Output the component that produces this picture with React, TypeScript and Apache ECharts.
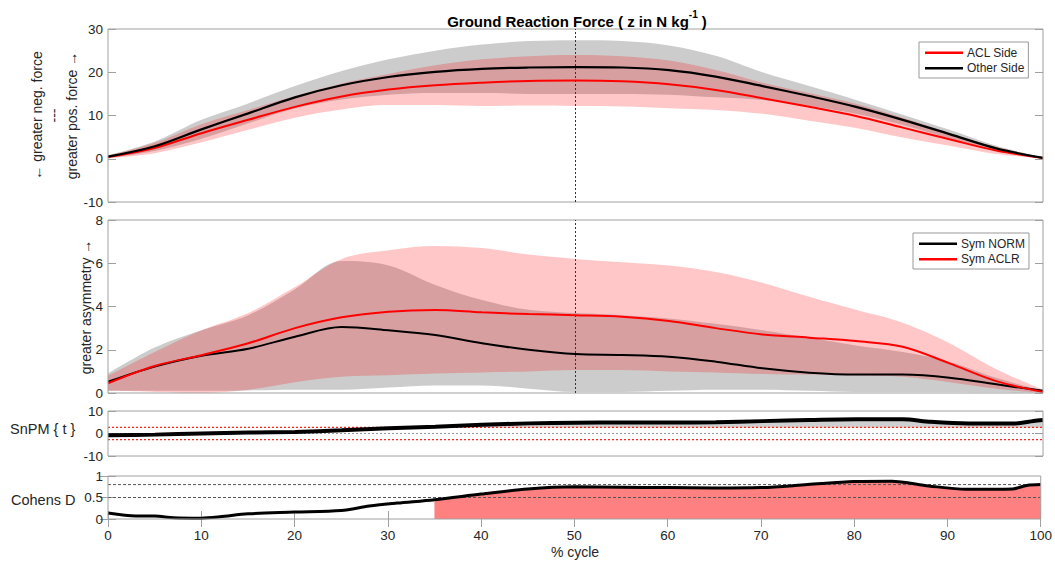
import React, { useEffect, useRef } from 'react';
import * as echarts from 'echarts';

// ---------- data ----------
const CYCLE = [0, 5, 10, 15, 20, 25, 30, 35, 40, 45, 50, 55, 60, 65, 70, 75, 80, 85, 90, 95, 100];

// Panel 1: Ground reaction force (z), mean and SD
const GRF_OTHER_MEAN = [0.5, 2.9, 6.8, 10.5, 14.2, 17.0, 18.9, 20.1, 20.8, 21.1, 21.2, 21.1, 20.5, 19.0, 16.8, 14.5, 12.0, 9.0, 5.7, 2.4, 0.2];
const GRF_OTHER_SD = [0.3, 1.1, 2.2, 2.3, 2.6, 3.3, 4.1, 4.9, 5.6, 6.1, 6.2, 6.1, 5.7, 4.8, 3.2, 2.3, 1.6, 1.2, 1.0, 0.6, 0.1];
const GRF_ACL_MEAN = [0.4, 2.5, 5.9, 9.0, 12.0, 14.4, 16.0, 17.0, 17.6, 18.0, 18.1, 17.9, 17.2, 15.9, 14.0, 12.0, 9.9, 7.2, 4.5, 1.9, 0.2];
const GRF_ACL_SD = [0.3, 1.2, 2.1, 2.3, 2.5, 3.0, 3.6, 4.6, 5.4, 5.7, 5.9, 5.8, 5.5, 4.6, 3.6, 3.2, 2.8, 2.3, 1.5, 0.8, 0.1];

// Panel 2: symmetry index, mean with lower / upper band
const SYM_NORM_MEAN = [0.52, 1.22, 1.72, 2.05, 2.6, 3.05, 2.9, 2.68, 2.3, 2.0, 1.8, 1.76, 1.68, 1.45, 1.14, 0.94, 0.85, 0.85, 0.71, 0.4, 0.1];
const SYM_NORM_LO = [0.1, 0.1, 0.1, 0.12, 0.15, 0.15, 0.25, 0.35, 0.35, 0.2, 0.05, 0.05, 0.1, 0.15, 0.15, 0.1, 0.05, 0.05, 0.05, 0.03, 0.0];
const SYM_NORM_HI = [0.9, 2.1, 2.9, 3.6, 4.8, 6.1, 5.9, 5.0, 4.3, 3.85, 3.7, 3.6, 3.45, 3.2, 2.9, 2.55, 2.2, 1.9, 1.45, 0.7, 0.1];
const SYM_ACLR_MEAN = [0.45, 1.25, 1.75, 2.3, 3.0, 3.5, 3.76, 3.84, 3.73, 3.65, 3.6, 3.53, 3.33, 3.0, 2.71, 2.56, 2.4, 2.14, 1.37, 0.55, 0.05];
const SYM_ACLR_LO = [0.1, 0.05, 0.0, 0.15, 0.5, 0.75, 0.82, 0.9, 0.95, 1.0, 1.06, 1.06, 1.0, 0.95, 0.88, 0.85, 0.82, 0.75, 0.5, 0.2, 0.0];
const SYM_ACLR_HI = [0.8, 1.9, 2.9, 3.7, 4.9, 6.2, 6.6, 6.8, 6.7, 6.4, 6.2, 6.05, 5.9, 5.6, 5.1, 4.45, 3.85, 3.25, 2.3, 1.1, 0.15];

// Panel 3: SnPM {t}
const SNPM_X = [0, 5, 10, 15, 20, 25, 30, 35, 40, 45, 50, 55, 60, 65, 70, 75, 80, 85, 88, 92, 97, 99, 100];
const SNPM_T = [-0.8, -0.5, 0.0, 0.4, 0.7, 1.4, 2.3, 3.0, 3.9, 4.5, 4.8, 4.9, 4.9, 5.0, 5.5, 6.0, 6.3, 6.3, 5.2, 4.5, 4.5, 5.6, 6.0];
const SNPM_THRESH = 2.7;

// Panel 4: Cohen's D
const COHEN_X = [0, 3, 5, 7, 10, 12, 15, 20, 25, 28, 31, 35, 40, 45, 50, 55, 60, 65, 70, 75, 80, 84, 88, 92, 97, 98.5, 100];
const COHEN_D = [0.14, 0.07, 0.07, 0.03, 0.02, 0.05, 0.12, 0.16, 0.2, 0.3, 0.37, 0.45, 0.58, 0.7, 0.75, 0.74, 0.73, 0.72, 0.73, 0.8, 0.87, 0.88, 0.77, 0.69, 0.7, 0.78, 0.8];
const COHEN_SIG_START = 35;
const COHEN_REF = [0.8, 0.5];
const EVENT_X = 50;

// ---------- styling ----------
const FONT = '"Liberation Sans", Arial, Helvetica, sans-serif';
const FRAME = '#a0a0a0';
const TEXT = '#262626';
const GRAY_BAND = 'rgba(0,0,0,0.2)';
const PINK_BAND = 'rgba(255,0,0,0.22)';
const L = 108;
const W = 935;
const SMOOTH = 0.35;

function band(stack: string, xi: number, yi: number, lo: number[], hi: number[], color: string) {
  const common = {
    type: 'line', xAxisIndex: xi, yAxisIndex: yi, stack, silent: true, symbol: 'none',
    smooth: SMOOTH, lineStyle: { width: 0, opacity: 0 }, z: 1,
  };
  return [
    { ...common, data: lo },
    { ...common, data: hi.map((h, i) => h - lo[i]), areaStyle: { color, opacity: 1 } },
  ];
}

function meanLine(name: string, xi: number, yi: number, data: number[], color: string, width: number, extra: any = {}) {
  return {
    type: 'line', name, xAxisIndex: xi, yAxisIndex: yi, symbol: 'none', smooth: SMOOTH,
    data, color, itemStyle: { color }, lineStyle: { color, width }, z: 3, ...extra,
  };
}

function hLine(xi: number, yi: number, y: number, color: string, dash: number[], width = 1) {
  return {
    type: 'line', xAxisIndex: xi, yAxisIndex: yi, symbol: 'none', silent: true, z: 2,
    data: [[0, y], [100, y]], color, itemStyle: { color },
    lineStyle: { color, width, type: dash, opacity: 1 },
  };
}

function yPair(gi: number, min: number, max: number, interval: number) {
  const tick = { show: true, inside: true, length: 8, lineStyle: { color: FRAME, width: 1 } };
  return [
    {
      gridIndex: gi, type: 'value', position: 'left', min, max, interval,
      axisLine: { show: false }, axisTick: tick, splitLine: { show: false },
      axisLabel: { show: true, color: TEXT, fontSize: 13.5, fontFamily: FONT, margin: 5 },
    },
    {
      gridIndex: gi, type: 'value', position: 'right', min, max, interval,
      axisLine: { show: false }, axisTick: tick, splitLine: { show: false },
      axisLabel: { show: false },
    },
  ];
}

function hiddenX(gi: number, isCat: boolean) {
  const base: any = {
    gridIndex: gi, axisLine: { show: false }, axisTick: { show: false },
    axisLabel: { show: false }, splitLine: { show: false },
  };
  if (isCat) return { ...base, type: 'category', data: CYCLE.map(String), boundaryGap: false };
  return { ...base, type: 'value', min: 0, max: 100, interval: 10 };
}

function legendBox(data: string[], left: number, top: number) {
  return {
    data, left, top, orient: 'vertical', icon: 'rect', itemWidth: 38, itemHeight: 2.5, itemGap: 2,
    padding: [4, 4, 3, 6], borderColor: '#999', borderWidth: 1, backgroundColor: '#fff', borderRadius: 0,
    textStyle: { color: TEXT, fontSize: 12, fontFamily: FONT, lineHeight: 13.5, padding: [0, 0, 0, -1] },
    selectedMode: false,
  };
}

const eventLine = {
  silent: true, symbol: ['none', 'none'], label: { show: false },
  lineStyle: { color: '#333', width: 1, type: [2, 2] },
  data: [{ xAxis: String(EVENT_X) }],
};

function buildOption() {
  const otherLo = GRF_OTHER_MEAN.map((m, i) => m - GRF_OTHER_SD[i]);
  const otherHi = GRF_OTHER_MEAN.map((m, i) => m + GRF_OTHER_SD[i]);
  const aclLo = GRF_ACL_MEAN.map((m, i) => m - GRF_ACL_SD[i]);
  const aclHi = GRF_ACL_MEAN.map((m, i) => m + GRF_ACL_SD[i]);

  const grid = [
    { left: L, top: 29, width: W, height: 173 },
    { left: L, top: 220, width: W, height: 173 },
    { left: L, top: 411, width: W, height: 45 },
    { left: L, top: 476, width: W, height: 43 },
  ].map((g) => ({ ...g, show: true, borderColor: FRAME, borderWidth: 1, backgroundColor: 'transparent', z: 5 }));

  const xTick = { show: true, inside: true, length: 8, lineStyle: { color: FRAME, width: 1 } };
  const xAxis = [
    hiddenX(0, true),
    hiddenX(1, true),
    hiddenX(2, false),
    {
      gridIndex: 3, type: 'value', position: 'bottom', min: 0, max: 100, interval: 10,
      axisLine: { show: false }, axisTick: xTick, splitLine: { show: false },
      axisLabel: { show: true, color: TEXT, fontSize: 13.5, fontFamily: FONT, margin: 9 },
    },
    {
      gridIndex: 3, type: 'value', position: 'top', min: 0, max: 100, interval: 10,
      axisLine: { show: false }, axisTick: xTick, splitLine: { show: false }, axisLabel: { show: false },
    },
  ];

  const yAxis = [
    ...yPair(0, -10, 30, 10),
    ...yPair(1, 0, 8, 2),
    ...yPair(2, -10, 10, 10),
    ...yPair(3, 0, 1, 0.5),
  ];

  const series: any[] = [
    // Panel 1
    ...band('otherBand', 0, 0, otherLo, otherHi, GRAY_BAND),
    ...band('aclBand', 0, 0, aclLo, aclHi, PINK_BAND),
    meanLine('ACL Side', 0, 0, GRF_ACL_MEAN, '#ff0000', 2),
    meanLine('Other Side', 0, 0, GRF_OTHER_MEAN, '#000000', 2.2, { markLine: eventLine }),
    // Panel 2
    ...band('normBand', 1, 2, SYM_NORM_LO, SYM_NORM_HI, GRAY_BAND),
    ...band('aclrBand', 1, 2, SYM_ACLR_LO, SYM_ACLR_HI, PINK_BAND),
    meanLine('Sym NORM', 1, 2, SYM_NORM_MEAN, '#000000', 2, { markLine: eventLine }),
    meanLine('Sym ACLR', 1, 2, SYM_ACLR_MEAN, '#ff0000', 2),
    // Panel 3: suprathreshold cluster shading, thresholds, zero line
    {
      type: 'line', xAxisIndex: 2, yAxisIndex: 4, symbol: 'none', smooth: 0.3, silent: true,
      data: SNPM_X.map((x, i) => [x, Math.max(SNPM_T[i], SNPM_THRESH)]),
      lineStyle: { width: 0, opacity: 0 },
      areaStyle: { color: '#d0d0d0', opacity: 1, origin: SNPM_THRESH }, z: 1,
    },
    hLine(2, 4, SNPM_THRESH, '#ff2020', [2, 2], 1.2),
    hLine(2, 4, -SNPM_THRESH, '#ff2020', [2, 2], 1.2),
    hLine(2, 4, 0, '#9a9a9a', [2, 2]),
    {
      type: 'line', name: 'SnPM', xAxisIndex: 2, yAxisIndex: 4, symbol: 'none', smooth: 0.3,
      data: SNPM_X.map((x, i) => [x, SNPM_T[i]]),
      lineStyle: { color: '#000', width: 4 }, z: 3,
    },
    // Panel 4
    {
      type: 'line', xAxisIndex: 3, yAxisIndex: 6, symbol: 'none', smooth: 0.3, silent: true,
      data: COHEN_X.map((x, i) => [x, COHEN_D[i]]).filter((p) => p[0] >= COHEN_SIG_START),
      lineStyle: { width: 0, opacity: 0 },
      areaStyle: { color: '#ff8080', opacity: 1 }, z: 1,
    },
    ...COHEN_REF.map((v) => hLine(3, 6, v, '#555555', [3, 2])),
    {
      type: 'line', name: 'Cohens D', xAxisIndex: 3, yAxisIndex: 6, symbol: 'none', smooth: 0.3,
      data: COHEN_X.map((x, i) => [x, COHEN_D[i]]),
      lineStyle: { color: '#000', width: 3 }, z: 3,
    },
  ];

  const graphic = [
    {
      type: 'text', x: 577, y: 19, z: 10,
      style: {
        text: '{b|Ground Reaction Force ( z in N kg}{s|-1}{b| )}',
        align: 'center', verticalAlign: 'middle', textAlign: 'center', textVerticalAlign: 'middle',
        rich: {
          b: { fontSize: 15, fontWeight: 'bold', fontFamily: FONT, fill: '#000', lineHeight: 20, verticalAlign: 'bottom' },
          s: { fontSize: 10, fontWeight: 'bold', fontFamily: FONT, fill: '#000', lineHeight: 20, verticalAlign: 'top' },
        },
      },
    },
    {
      type: 'text', x: 54, y: 115.5, rotation: Math.PI / 2, z: 10,
      style: {
        text: '← greater neg. force\n---\ngreater pos. force →',
        fill: TEXT, fontSize: 14, fontFamily: FONT, lineHeight: 17.5,
        align: 'center', verticalAlign: 'middle', textAlign: 'center', textVerticalAlign: 'middle',
      },
    },
    {
      type: 'text', x: 86, y: 307, rotation: Math.PI / 2, z: 10,
      style: {
        text: 'greater asymmetry →', fill: TEXT, fontSize: 14, fontFamily: FONT,
        align: 'center', verticalAlign: 'middle', textAlign: 'center', textVerticalAlign: 'middle',
      },
    },
    {
      type: 'text', x: 10, y: 429, z: 10,
      style: {
        text: 'SnPM { t }', fill: TEXT, fontSize: 14.5, fontFamily: FONT,
        align: 'left', verticalAlign: 'middle', textAlign: 'left', textVerticalAlign: 'middle',
      },
    },
    {
      type: 'text', x: 11, y: 500, z: 10,
      style: {
        text: 'Cohens D', fill: TEXT, fontSize: 14.5, fontFamily: FONT,
        align: 'left', verticalAlign: 'middle', textAlign: 'left', textVerticalAlign: 'middle',
      },
    },
    {
      type: 'text', x: 575, y: 552, z: 10,
      style: {
        text: '% cycle', fill: TEXT, fontSize: 14, fontFamily: FONT,
        align: 'center', verticalAlign: 'middle', textAlign: 'center', textVerticalAlign: 'middle',
      },
    },
  ];

  return {
    animation: false,
    backgroundColor: '#ffffff',
    textStyle: { fontFamily: FONT },
    grid,
    xAxis,
    yAxis,
    legend: [
      legendBox(['ACL Side', 'Other Side'], 919, 42),
      legendBox(['Sym NORM', 'Sym ACLR'], 913, 233),
    ],
    series,
    graphic,
  };
}

export default function App() {
  const ref = useRef<HTMLDivElement>(null);
  useEffect(() => {
    if (!ref.current) return;
    const chart = echarts.init(ref.current, null, { renderer: 'svg' });
    chart.setOption(buildOption() as any);
    return () => chart.dispose();
  }, []);
  return (
    <div
      ref={ref}
      style={{ position: 'fixed', left: 0, top: 0, width: 1055, height: 563, background: '#fff' }}
    />
  );
}
